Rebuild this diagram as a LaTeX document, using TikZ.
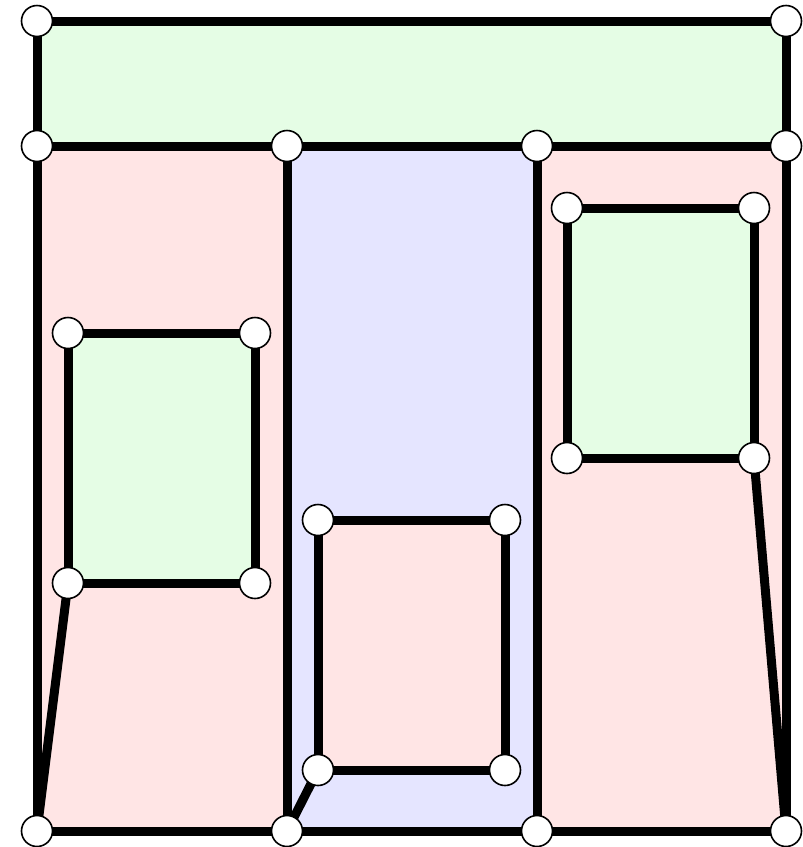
\documentclass[tikz,border=0pt]{standalone}
\begin{document}
\begin{tikzpicture}[x=1pt,y=-1pt,
  vtx/.style={circle,draw=black,fill=white,line width=1.6pt,minimum size=31pt,inner sep=0pt},
  edge/.style={draw=black,line width=9pt}]
\useasboundingbox (0,0) rectangle (803,847);
\definecolor{fgreen}{HTML}{E5FDE5}
\definecolor{fpink}{HTML}{FFE5E5}
\definecolor{fblue}{HTML}{E5E5FF}
% faces
\fill[fgreen] (37,21) rectangle (786,146);
\fill[fpink] (37,146) rectangle (287,831);
\fill[fblue] (287,146) rectangle (537,831);
\fill[fpink] (537,146) rectangle (786,831);
\fill[fgreen] (68,333) rectangle (255,583);
\fill[fpink] (318,520) rectangle (505,770);
\fill[fgreen] (567,208) rectangle (754,458);
% vertex coordinates
\coordinate (a1) at (37,21);  \coordinate (a2) at (786,21);
\coordinate (b1) at (37,146); \coordinate (b2) at (287,146); \coordinate (b3) at (537,146); \coordinate (b4) at (786,146);
\coordinate (c1) at (37,831); \coordinate (c2) at (287,831); \coordinate (c3) at (537,831); \coordinate (c4) at (786,831);
\coordinate (l1) at (68,333); \coordinate (l2) at (255,333); \coordinate (l3) at (68,583); \coordinate (l4) at (255,583);
\coordinate (m1) at (318,520); \coordinate (m2) at (505,520); \coordinate (m3) at (318,770); \coordinate (m4) at (505,770);
\coordinate (r1) at (567,208); \coordinate (r2) at (754,208); \coordinate (r3) at (567,458); \coordinate (r4) at (754,458);
% edges
\draw[edge] (a1) -- (a2) -- (b4) -- (c4) -- (c3) -- (c2) -- (c1) -- (b1) -- (a1);
\draw[edge] (b1) -- (b2) -- (b3) -- (b4);
\draw[edge] (b2) -- (c2);
\draw[edge] (b3) -- (c3);
\draw[edge] (l1) -- (l2) -- (l4) -- (l3) -- cycle;
\draw[edge] (m1) -- (m2) -- (m4) -- (m3) -- cycle;
\draw[edge] (r1) -- (r2) -- (r4) -- (r3) -- cycle;
\draw[edge] (l3) -- (c1);
\draw[edge] (m3) -- (c2);
\draw[edge] (r4) -- (c4);
% vertices
\foreach \v in {a1,a2,b1,b2,b3,b4,c1,c2,c3,c4,l1,l2,l3,l4,m1,m2,m3,m4,r1,r2,r3,r4}
  \node[vtx] (n\v) at (\v) {};
\end{tikzpicture}
\end{document}
